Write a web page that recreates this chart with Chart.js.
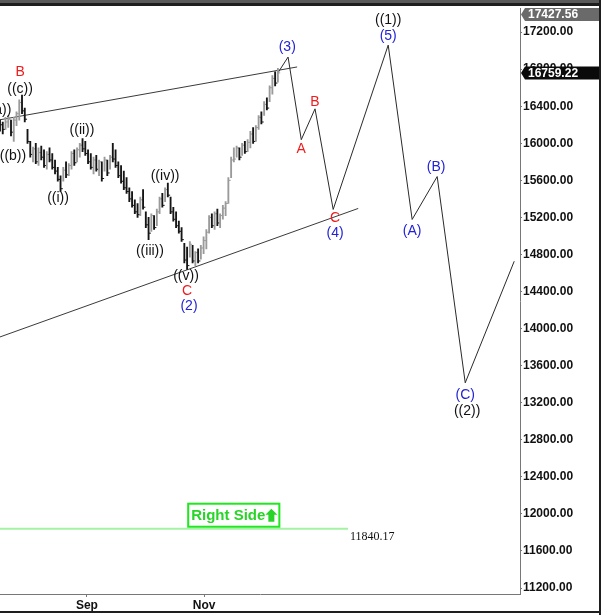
<!DOCTYPE html>
<html>
<head>
<meta charset="utf-8">
<script src="https://cdn.jsdelivr.net/npm/chart.js@4.4.1/dist/chart.umd.min.js"></script>
<style>
  html, body { margin: 0; padding: 0; background: #ffffff; }
  canvas { display: block; }
</style>
</head>
<body>
<canvas id="canvasOndas" width="601" height="615"></canvas>
<script>
// daily bars (x = trading day index)
var barHigh = [16250,16230,16280,16300,16250,16280,16340,16470,16520,16380,
    16150,16020,15960,16000,15950,15970,15930,15910,15950,15890,
    15820,15740,15650,15740,15800,15780,15910,15930,15950,16000,
    16050,16020,15930,15890,15850,15870,15820,15800,15850,15820,
    15870,16000,15930,15800,15760,15700,15630,15520,15480,15390,
    15350,15420,15500,15260,15200,15240,15220,15290,15420,15460,
    15520,15570,15420,15310,15260,15160,15090,14920,14880,14940,
    14900,14830,14860,14900,14990,15070,15220,15240,15260,15290,
    15240,15330,15370,15630,15850,15950,15970,15950,16000,16020,
    16040,16130,16170,16190,16300,16340,16450,16490,16620,16730,
    16770,16810];
var barLow = [16130,16100,16150,16170,16080,16020,16190,16250,16320,16230,
    16000,15850,15800,15780,15760,15820,15740,15720,15800,15720,
    15670,15590,15480,15590,15630,15650,15720,15760,15800,15850,
    15910,15870,15780,15720,15670,15700,15650,15590,15700,15650,
    15720,15800,15740,15630,15570,15500,15460,15370,15310,15240,
    15200,15220,15290,15090,14960,15050,15070,15110,15240,15310,
    15370,15420,15240,15160,15090,15030,14940,14710,14640,14770,
    14710,14680,14710,14750,14810,14860,15030,15090,15070,15110,
    15090,15180,15220,15350,15630,15800,15850,15820,15870,15890,
    15910,15950,16000,16020,16150,16210,16300,16360,16450,16530,
    16620,16660];
var barClose = [16200,16150,16230,16260,16120,16250,16320,16440,16350,16260,
    16020,15880,15940,15800,15900,15850,15760,15880,15820,15740,
    15700,15610,15510,15710,15660,15760,15890,15790,15930,15980,
    15940,15890,15800,15740,15820,15720,15800,15620,15820,15680,
    15850,15830,15760,15650,15590,15520,15480,15400,15330,15260,
    15230,15390,15310,15120,15030,15220,15090,15260,15400,15330,
    15500,15440,15260,15180,15110,15050,14960,14740,14680,14910,
    14730,14820,14730,14870,14950,15040,15200,15110,15240,15140,
    15220,15300,15350,15600,15820,15830,15950,15850,15980,15910,
    16010,16100,16020,16170,16280,16230,16420,16380,16600,16700,
    16650,16760];

// projected wave path
var pathX = [101, 104.7, 109.5, 114.5, 121.1, 141.1, 149.8, 158.9, 169.1, 186.9];
var pathY = [16760, 16931, 16039, 16372, 15286, 17060, 15178, 15641, 13415, 14727];

// channel lines and level
var upperLineX = [0, 108];
var upperLineY = [16254, 16824];
var lowerLineX = [0, 130.2];
var lowerLineY = [13910, 15297];
var levelX = [0, 126.5];
var levelValue = 11840.17;

// wave labels
var waveText  = ['((a))','((b))','B','((c))','((i))','((ii))','((iii))','((iv))','((v))','C','(2)',
                 '(3)','A','B','C','(4)','((1))','(5)','(A)','(B)','(C)','((2))'];
var waveX     = [-0.7, 4.7, 7.3, 7.3, 21.1, 29.8, 54.5, 60, 67.6, 68, 68.7,
                 104.4, 109.5, 114.5, 121.8, 121.8, 141.1, 141.1, 149.8, 158.5, 169.1, 169.8];
var waveY     = [16360, 15856, 16771, 16587, 15404, 16146, 14834, 15641, 14566, 14405, 14244,
                 17039, 15942, 16447, 15189, 15028, 17329, 17157, 15049, 15748, 13286, 13114];
var waveColor = ['k','k','r','k','k','k','k','k','k','r','b',
                 'b','r','r','r','b','k','b','b','b','b','k'];

var yTicks = [11200,11600,12000,12400,12800,13200,13600,14000,14400,14800,15200,15600,16000,16400,16800,17200];
var monthTickX = [31.6, 74.2];
var monthTickLabels = ['Sep', 'Nov'];
var lastPrice = 16759.22;
var highPrice = 17427.56;
var rightSideText = 'Right Side';

var colorMap = { k: '#111111', r: '#ee1c1c', b: '#2323d6' };

function createLineSet(xs, ys, color){
    var pts = [];
    for (var i = 0; i < xs.length; i++) pts.push({x: xs[i], y: ys[i]});
    return {
        type: 'line',
        data: pts,
        borderColor: color,
        borderWidth: 1,
        pointRadius: 0,
        tension: 0,
        fill: false
    };
}

function createBars(){
    var pts = [], colors = [], ticks = [];
    for (var i = 0; i < barHigh.length; i++) {
        pts.push({x: i, y: [barLow[i], barHigh[i]]});
        var up = i > 0 && barClose[i] >= barClose[i - 1];
        colors.push(up ? '#9a9a9a' : '#151515');
        ticks.push({x: i + 0.4, y: barClose[i]});
    }
    var bars = {
        type: 'bar',
        data: pts,
        backgroundColor: colors,
        borderWidth: 0,
        barThickness: 1.2,
        grouped: false
    };
    var closes = {
        type: 'line',
        data: ticks,
        showLine: false,
        pointStyle: 'line',
        pointRadius: 1.2,
        pointBorderWidth: 1,
        pointBorderColor: colors,
        pointBackgroundColor: colors
    };
    return [bars, closes];
}

function drawFlag(ctx, area, y, value, fill){
    var top = Math.max(y - 6.5, 8);
    ctx.fillStyle = fill;
    ctx.beginPath();
    ctx.moveTo(area.right + 1, top + 6.5);
    ctx.lineTo(area.right + 5, top);
    ctx.lineTo(601, top);
    ctx.lineTo(601, top + 13);
    ctx.lineTo(area.right + 5, top + 13);
    ctx.closePath();
    ctx.fill();
    ctx.fillStyle = '#ffffff';
    ctx.font = 'bold 12px "Liberation Sans", Arial, sans-serif';
    ctx.textAlign = 'left';
    ctx.textBaseline = 'middle';
    ctx.fillText(value.toFixed(2), area.right + 8, top + 7);
}

var decorPlugin = {
    id: 'decor',
    beforeDraw: function(chart){
        var ctx = chart.ctx;
        ctx.save();
        ctx.fillStyle = '#ffffff';
        ctx.fillRect(0, 0, chart.width, chart.height);
        ctx.restore();
    },
    afterDraw: function(chart){
        var ctx = chart.ctx;
        var xs = chart.scales.x, ys = chart.scales.y, area = chart.chartArea;
        ctx.save();

        // wave labels
        ctx.font = '14px "Liberation Sans", Arial, sans-serif';
        ctx.textAlign = 'center';
        ctx.textBaseline = 'middle';
        for (var i = 0; i < waveText.length; i++) {
            ctx.fillStyle = colorMap[waveColor[i]];
            ctx.fillText(waveText[i], xs.getPixelForValue(waveX[i]), ys.getPixelForValue(waveY[i]));
        }

        // level label
        var ly = ys.getPixelForValue(levelValue);
        var lx = xs.getPixelForValue(levelX[1]);
        ctx.fillStyle = '#111111';
        ctx.font = '12px "Liberation Serif", "Times New Roman", serif';
        ctx.textAlign = 'left';
        ctx.fillText(levelValue.toFixed(2), lx + 2, ly + 8);

        // Right Side box
        var bx = xs.getPixelForValue(68.4);
        ctx.font = 'bold 15px "Liberation Sans", Arial, sans-serif';
        var tw = ctx.measureText(rightSideText).width;
        var bw = tw + 17, bh = 23;
        var by = ly - 2 - bh;
        ctx.strokeStyle = '#1ee81e';
        ctx.lineWidth = 2;
        ctx.strokeRect(bx, by, bw, bh);
        ctx.fillStyle = '#28d428';
        ctx.textBaseline = 'middle';
        ctx.fillText(rightSideText, bx + 3, by + bh / 2 + 1);
        var ax = bx + 3 + tw + 6, ay = by + 5;
        ctx.beginPath();
        ctx.moveTo(ax, ay);
        ctx.lineTo(ax + 6, ay + 6);
        ctx.lineTo(ax + 3, ay + 6);
        ctx.lineTo(ax + 3, ay + 13);
        ctx.lineTo(ax - 3, ay + 13);
        ctx.lineTo(ax - 3, ay + 6);
        ctx.lineTo(ax - 6, ay + 6);
        ctx.closePath();
        ctx.fill();

        // price flags
        drawFlag(ctx, area, ys.getPixelForValue(highPrice), highPrice, '#6a6a6a');
        drawFlag(ctx, area, ys.getPixelForValue(lastPrice), lastPrice, '#0a0a0a');

        // frame
        ctx.fillStyle = '#5a5a5a';
        ctx.fillRect(0, 0, chart.width, 3);
        ctx.fillStyle = '#1e1e1e';
        ctx.fillRect(0, 3, chart.width, 3);
        ctx.fillRect(chart.width - 2, 0, 2, chart.height);
        ctx.fillRect(0, chart.height - 4, chart.width, 2);
        ctx.restore();
    }
};

function createWaveChart(){
    var canvas = document.getElementById('canvasOndas');
    var ctx = canvas.getContext('2d');
    var datasets = createBars();
    datasets.push(createLineSet(upperLineX, upperLineY, '#3a3a3a'));
    datasets.push(createLineSet(lowerLineX, lowerLineY, '#3a3a3a'));
    var level = createLineSet(levelX, [levelValue, levelValue], '#a4f2a4');
    level.borderWidth = 2;
    datasets.push(level);
    datasets.push(createLineSet(pathX, pathY, '#2a2a2a'));

    new Chart(ctx, {
        type: 'bar',
        data: { datasets: datasets },
        plugins: [decorPlugin],
        options: {
            responsive: false,
            animation: false,
            events: [],
            layout: { autoPadding: false, padding: { top: 6, left: 0, right: 0, bottom: 0 } },
            plugins: {
                legend: { display: false },
                tooltip: { enabled: false }
            },
            scales: {
                x: {
                    type: 'linear',
                    min: 0,
                    max: 189,
                    offset: false,
                    grid: { display: true, offset: false, drawOnChartArea: false, drawTicks: true, tickLength: 3, color: '#777777' },
                    border: { display: true, color: '#777777' },
                    afterBuildTicks: function(scale){
                        scale.ticks = monthTickX.map(function(v){ return {value: v}; });
                    },
                    afterFit: function(scale){ scale.height = 21; },
                    ticks: {
                        autoSkip: false,
                        maxRotation: 0,
                        padding: 1,
                        color: '#111111',
                        font: { family: '"Liberation Sans", Arial, sans-serif', size: 12, weight: 'bold' },
                        callback: function(value, index){ return monthTickLabels[index]; }
                    }
                },
                y: {
                    type: 'linear',
                    position: 'right',
                    min: 11135.5,
                    max: 17458.1,
                    grid: { display: true, drawOnChartArea: false, drawTicks: true, tickLength: 2, color: '#777777' },
                    border: { display: true, color: '#777777' },
                    afterBuildTicks: function(scale){
                        scale.ticks = yTicks.map(function(v){ return {value: v}; });
                    },
                    afterFit: function(scale){ scale.width = 81; },
                    ticks: {
                        padding: 1,
                        color: '#111111',
                        font: { family: '"Liberation Sans", Arial, sans-serif', size: 12, weight: 'bold' },
                        callback: function(value){ return Number(value).toFixed(2); }
                    }
                }
            }
        }
    });
}

createWaveChart();
</script>
</body>
</html>
